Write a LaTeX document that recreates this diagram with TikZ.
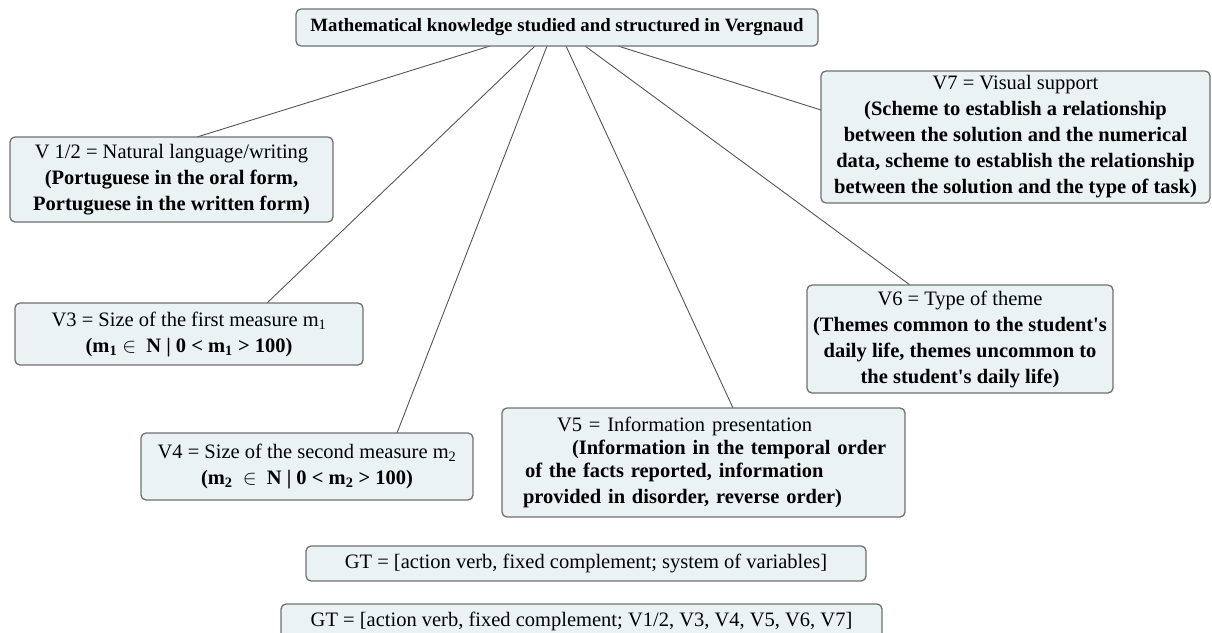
\documentclass[tikz,border=0pt]{standalone}
\usepackage{fontspec}
\setmainfont{Liberation Serif}
\usetikzlibrary{backgrounds}
\definecolor{boxfill}{HTML}{EBF2F4}
\definecolor{boxborder}{HTML}{707070}
\definecolor{linkc}{HTML}{555555}
\newcommand{\fs}{\fontsize{20.5}{26}\selectfont}
\newcommand{\q}{\textquotesingle}
\tikzset{
  box/.style={draw=boxborder, fill=boxfill, rounded corners=5pt, line width=1.3pt,
              align=center, inner sep=0pt, font=\fs},
  link/.style={draw=linkc, line width=0.9pt}
}
\begin{document}
\begin{tikzpicture}[x=1pt,y=-1pt]
\useasboundingbox (0,0) rectangle (1212,632);
% nodes
\node[box, minimum width=522, minimum height=37] (title) at (557,27.5)
  {\fontsize{18.8}{22}\selectfont\bfseries Mathematical knowledge studied and structured in Vergnaud};
\node[box, minimum width=323, minimum height=85] (v12) at (171.5,179.5)
  {\fontsize{20.5}{27}\selectfont V 1/2 = Natural language/writing\\ \bfseries (Portuguese in the oral form,\\ \bfseries Portuguese in the written form)};
\node[box, minimum width=348, minimum height=62] (v3) at (189,334)
  {\fontsize{20.5}{30}\selectfont V3 = Size of the first measure m\textsubscript{1}\\ \bfseries (m\textsubscript{1} $\in$\ \ N | 0 < m\textsubscript{1} > 100)};
\node[box, minimum width=332, minimum height=67] (v4) at (307,466.5)
  {\fontsize{20.5}{29}\selectfont V4 = Size of the second measure m\textsubscript{2}\\ \bfseries (m\textsubscript{2}\ \ $\in$\ \ N | 0 < m\textsubscript{2} > 100)};
\node[box, align=left, text width=403, minimum height=109] (v5) at (703.5,462.5)
  {\fontsize{20.5}{23}\selectfont \hspace*{55pt}V5 = Information presentation\\ \hspace*{70pt}\bfseries (Information in the temporal order\\ \hspace*{23pt}\bfseries of the facts reported, information\\ \hspace*{21pt}\bfseries provided in disorder, reverse order)};
\node[box, minimum width=306, minimum height=108] (v6) at (960,339)
  {\fontsize{20.5}{25.5}\selectfont V6 = Type of theme\\ \bfseries (Themes common to the student\q s\\ \bfseries daily life, themes uncommon to\\ \bfseries the student\q s daily life)};
\node[box, minimum width=389, minimum height=132] (v7) at (1015.5,137)
  {\fontsize{20.5}{24.2}\selectfont V7 = Visual support\\ \bfseries (Scheme to establish a relationship\\ \bfseries between the solution and the numerical\\ \bfseries data, scheme to establish the relationship\\ \bfseries between the solution and the type of task)};
\node[box, minimum width=560, minimum height=35] (gt1) at (586,563.5)
  {GT = [action verb, fixed complement; system of variables]};
\node[box, minimum width=601, minimum height=38] (gt2) at (581.5,623)
  {\raisebox{7pt}{GT = [action verb, fixed complement; V1/2, V3, V4, V5, V6, V7]}};
% connector anchor points
\coordinate (s1) at (490,46);
\coordinate (s3) at (535,46);
\coordinate (s4) at (547,46);
\coordinate (s5) at (566,46);
\coordinate (s6) at (585,46);
\coordinate (s7) at (618,46);
\coordinate (e1) at (197,137);
\coordinate (e3) at (267,303);
\coordinate (e4) at (397,433);
\coordinate (e5) at (733,408);
\coordinate (e6) at (910,285);
\coordinate (e7) at (821,110);
\begin{scope}[on background layer]
\draw[link] (s1) -- (e1);
\draw[link] (s3) -- (e3);
\draw[link] (s4) -- (e4);
\draw[link] (s5) -- (e5);
\draw[link] (s6) -- (e6);
\draw[link] (s7) -- (e7);
\end{scope}
\end{tikzpicture}
\end{document}
